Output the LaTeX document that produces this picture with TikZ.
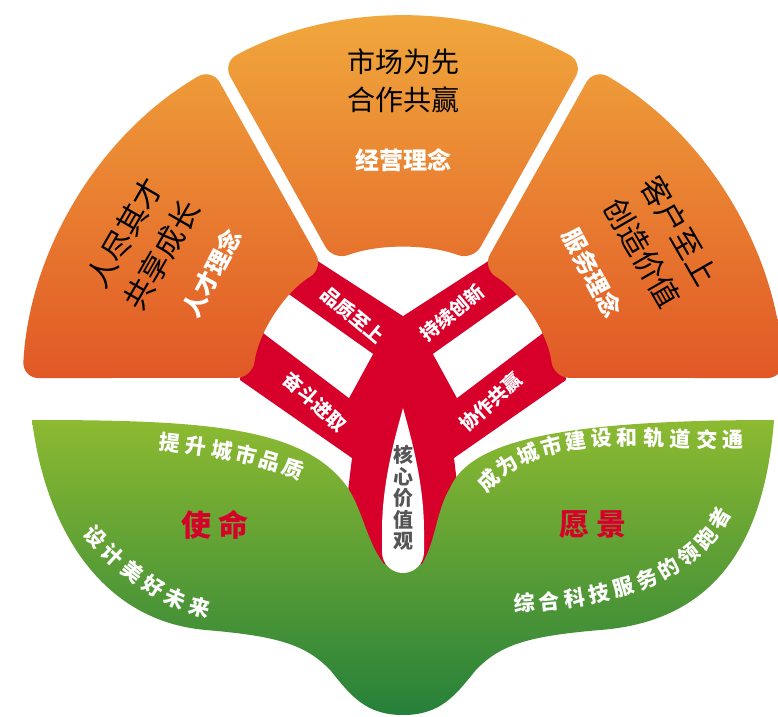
\documentclass[tikz,border=0pt]{standalone}
\usepackage{fontspec}
\setmainfont{Noto Sans CJK SC}
\usetikzlibrary{calc}

\definecolor{fanred}{RGB}{214,0,42}
\definecolor{orangetop}{RGB}{241,170,61}
\definecolor{orangebot}{RGB}{225,88,38}
\definecolor{leaftop}{RGB}{141,186,49}
\definecolor{leafbot}{RGB}{38,128,58}
\definecolor{coregray}{RGB}{85,85,85}

\tikzset{
  petal/.style={top color=orangetop,bottom color=orangebot,rounded corners=16pt},
  leaf/.style={top color=leaftop,bottom color=leafbot},
  petaltext/.style={align=center,text=black,font=\fontsize{28}{38}\selectfont},
  sidetext/.style={align=center,text=black,font=\fontsize{30}{43}\selectfont},
  petallabel/.style={text=white,font=\bfseries\fontsize{24}{24}\selectfont},
  ribtext/.style={text=white,font=\bfseries\fontsize{19}{19}\selectfont},
  coretext/.style={align=center,text=coregray,font=\bfseries\fontsize{20}{21.5}\selectfont},
  leaftitle/.style={text=fanred,font=\bfseries\fontsize{30}{30}\selectfont},
  leafchar/.style={sloped,inner sep=0pt,text=white,font=\bfseries\fontsize{21}{21}\selectfont}
}

\begin{document}
\begin{tikzpicture}[x=1pt,y=1pt]
\useasboundingbox (0,0) rectangle (778,716);
\coordinate (O) at (403,318);

% red fan with its ribs
\fill[fanred] (240,336) -- (352,258) -- (345,200) -- (372,120) -- (434,120)
  -- (461,200) -- (454,258) -- (566,336)
  arc[start angle=6.3,end angle=173.7,radius=164] -- cycle;
\fill[white] (280,428) -- (373,362) -- (349,318) -- (250,393) -- cycle;
\fill[white] (526,428) -- (433,362) -- (457,318) -- (556,393) -- cycle;
\fill[white] (403,400) -- (290,473) -- (516,473) -- cycle;

% three orange petals
\path[petal]
  ($(O)+(118.3:381)$) arc[start angle=118.3,end angle=61.7,radius=381]
    -- (472.9,455.4) arc[start angle=69.55,end angle=110.45,radius=200] -- cycle
  ($(O)+(120.1:381)$) arc[start angle=120.1,end angle=177,radius=381]
    -- ($(O)+(172.4:152)$) arc[start angle=172.4,end angle=121.4,radius=152] -- cycle
  ($(O)+(59.9:381)$) arc[start angle=59.9,end angle=3,radius=381]
    -- ($(O)+(7.6:152)$) arc[start angle=7.6,end angle=58.6,radius=152] -- cycle;

% green leaves
\path[leaf] (32,296) .. controls (200,296) and (300,290) .. (345,232)
  .. controls (362,210) and (366,175) .. (384,152) -- (422,152)
  .. controls (436,175) and (436,205) .. (450,228)
  .. controls (470,275) and (560,296) .. (774,296)
  .. controls (765,180) and (720,95) .. (600,86)
  .. controls (530,80) and (500,72) .. (475,45)
  .. controls (455,20) and (440,1) .. (403,1)
  .. controls (366,1) and (351,20) .. (331,45)
  .. controls (306,72) and (276,80) .. (206,86)
  .. controls (100,95) and (45,190) .. cycle;

% core drop
\fill[white] (403,308) .. controls (396,282) and (382,235) .. (382,185) -- (382,164)
  arc[start angle=180,end angle=360,radius=21] -- (424,185)
  .. controls (424,235) and (410,282) .. cycle;

% petal texts
\node[petaltext] (market) at (403,635) {市场为先\\合作共赢};
\node[petallabel] (bizidea) at (403,556) {经营理念};
\node[sidetext,rotate=60] (talent) at (143,472) {人尽其才\\共享成长};
\node[petallabel,rotate=62] (talentidea) at (212,443) {人才理念};
\node[sidetext,rotate=-60] (client) at (661,474) {客户至上\\创造价值};
\node[petallabel,rotate=-62] (serviceidea) at (592,443) {服务理念};

% rib texts
\node[ribtext,rotate=-40] (quality) at (353,401) {品质至上};
\node[ribtext,rotate=-42] (strive) at (315,314) {奋斗进取};
\node[ribtext,rotate=40] (innovate) at (452,403) {持续创新};
\node[ribtext,rotate=42] (cooperate) at (491,314) {协作共赢};
\node[coretext] (core) at (403,218) {核\\心\\价\\值\\观};

% leaf texts
\node[leaftitle] (mission) at (215,191) {使\hspace{0.25em}命};
\node[leaftitle] (vision) at (593,191) {愿\hspace{0.25em}景};
\path (170,273) .. controls (215,268) and (255,262) .. (293,247)
  foreach \ch [count=\i from 0, evaluate=\i as \p using \i/5]
    in {提,升,城,市,品,质} {node[leafchar,pos=\p] (upgrade\i) {\ch}};
\path (95,179) .. controls (124,148) and (158,120) .. (200,109)
  foreach \ch [count=\i from 0, evaluate=\i as \p using \i/5]
    in {设,计,美,好,未,来} {node[leafchar,pos=\p] (design\i) {\ch}};
\path (488,236) .. controls (548,294) and (648,276) .. (733,276)
  foreach \ch [count=\i from 0, evaluate=\i as \p using \i/10]
    in {成,为,城,市,建,设,和,轨,道,交,通} {node[leafchar,pos=\p] (become\i) {\ch}};
\path (525,113) .. controls (597,117) and (683,132) .. (720,198)
  foreach \ch [count=\i from 0, evaluate=\i as \p using \i/9]
    in {综,合,科,技,服,务,的,领,跑,者} {node[leafchar,pos=\p] (lead\i) {\ch}};
\end{tikzpicture}
\end{document}
